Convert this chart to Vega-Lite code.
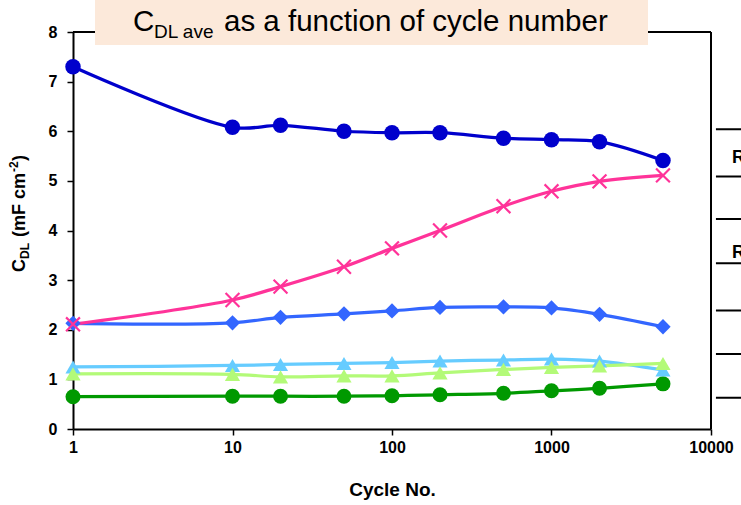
{
  "$schema": "https://vega.github.io/schema/vega-lite/v6.json",
  "width": 638,
  "height": 397,
  "autosize": {"type": "none"},
  "padding": {"left": 73, "top": 32, "right": 30, "bottom": 76},
  "background": "white",
  "config": {
    "view": {"stroke": null},
    "font": "Liberation Sans",
    "axis": {
      "domainColor": "black", "domainWidth": 2, "tickColor": "black", "tickWidth": 1.5, "tickSize": 6,
      "labelFont": "Liberation Sans", "labelFontWeight": "bold", "labelFontSize": 16, "labelColor": "black",
      "grid": false, "titleFont": "Liberation Sans", "titleFontWeight": "bold", "titleFontSize": 19, "titleColor": "black"
    }
  },
  "datasets": {
    "series": [
      {"series": "green", "cycle": 1, "cdl": 0.65}, {"series": "green", "cycle": 10, "cdl": 0.66}, {"series": "green", "cycle": 20, "cdl": 0.66}, {"series": "green", "cycle": 50, "cdl": 0.66}, {"series": "green", "cycle": 100, "cdl": 0.67}, {"series": "green", "cycle": 200, "cdl": 0.69}, {"series": "green", "cycle": 500, "cdl": 0.72}, {"series": "green", "cycle": 1000, "cdl": 0.77}, {"series": "green", "cycle": 2000, "cdl": 0.82}, {"series": "green", "cycle": 5000, "cdl": 0.91},
      {"series": "lightblue", "cycle": 1, "cdl": 1.25}, {"series": "lightblue", "cycle": 10, "cdl": 1.28}, {"series": "lightblue", "cycle": 20, "cdl": 1.30}, {"series": "lightblue", "cycle": 50, "cdl": 1.32}, {"series": "lightblue", "cycle": 100, "cdl": 1.34}, {"series": "lightblue", "cycle": 200, "cdl": 1.37}, {"series": "lightblue", "cycle": 500, "cdl": 1.39}, {"series": "lightblue", "cycle": 1000, "cdl": 1.41}, {"series": "lightblue", "cycle": 2000, "cdl": 1.37}, {"series": "lightblue", "cycle": 5000, "cdl": 1.19},
      {"series": "lime", "cycle": 1, "cdl": 1.11}, {"series": "lime", "cycle": 10, "cdl": 1.10}, {"series": "lime", "cycle": 20, "cdl": 1.05}, {"series": "lime", "cycle": 50, "cdl": 1.07}, {"series": "lime", "cycle": 100, "cdl": 1.07}, {"series": "lime", "cycle": 200, "cdl": 1.13}, {"series": "lime", "cycle": 500, "cdl": 1.20}, {"series": "lime", "cycle": 1000, "cdl": 1.24}, {"series": "lime", "cycle": 2000, "cdl": 1.27}, {"series": "lime", "cycle": 5000, "cdl": 1.32},
      {"series": "blue", "cycle": 1, "cdl": 2.13}, {"series": "blue", "cycle": 10, "cdl": 2.14}, {"series": "blue", "cycle": 20, "cdl": 2.25}, {"series": "blue", "cycle": 50, "cdl": 2.32}, {"series": "blue", "cycle": 100, "cdl": 2.38}, {"series": "blue", "cycle": 200, "cdl": 2.45}, {"series": "blue", "cycle": 500, "cdl": 2.46}, {"series": "blue", "cycle": 1000, "cdl": 2.44}, {"series": "blue", "cycle": 2000, "cdl": 2.31}, {"series": "blue", "cycle": 5000, "cdl": 2.06},
      {"series": "pink", "cycle": 1, "cdl": 2.11}, {"series": "pink", "cycle": 10, "cdl": 2.60}, {"series": "pink", "cycle": 20, "cdl": 2.87}, {"series": "pink", "cycle": 50, "cdl": 3.27}, {"series": "pink", "cycle": 100, "cdl": 3.64}, {"series": "pink", "cycle": 200, "cdl": 4.00}, {"series": "pink", "cycle": 500, "cdl": 4.49}, {"series": "pink", "cycle": 1000, "cdl": 4.79}, {"series": "pink", "cycle": 2000, "cdl": 4.99}, {"series": "pink", "cycle": 5000, "cdl": 5.11},
      {"series": "darkblue", "cycle": 1, "cdl": 7.30}, {"series": "darkblue", "cycle": 10, "cdl": 6.08}, {"series": "darkblue", "cycle": 20, "cdl": 6.12}, {"series": "darkblue", "cycle": 50, "cdl": 6.00}, {"series": "darkblue", "cycle": 100, "cdl": 5.97}, {"series": "darkblue", "cycle": 200, "cdl": 5.97}, {"series": "darkblue", "cycle": 500, "cdl": 5.86}, {"series": "darkblue", "cycle": 1000, "cdl": 5.83}, {"series": "darkblue", "cycle": 2000, "cdl": 5.79}, {"series": "darkblue", "cycle": 5000, "cdl": 5.41}
    ],
    "frame": [
      {"cycle": 1, "cycle2": 10000, "cdl": 8, "cdl2": 8},
      {"cycle": 10000, "cycle2": 10000, "cdl": 0, "cdl2": 8},
      {"cycle": 10740, "cycle2": 40000, "cdl": 6.04, "cdl2": 6.04},
      {"cycle": 10740, "cycle2": 40000, "cdl": 5.09, "cdl2": 5.09},
      {"cycle": 10740, "cycle2": 40000, "cdl": 4.23, "cdl2": 4.23},
      {"cycle": 10740, "cycle2": 40000, "cdl": 3.34, "cdl2": 3.34},
      {"cycle": 10740, "cycle2": 40000, "cdl": 2.39, "cdl2": 2.39},
      {"cycle": 10740, "cycle2": 40000, "cdl": 1.51, "cdl2": 1.51},
      {"cycle": 10740, "cycle2": 40000, "cdl": 0.63, "cdl2": 0.63}
    ],
    "titlebox": [{"cycle": 1.374, "cycle2": 4027, "cdl": 9.0, "cdl2": 7.74}],
    "titletext": [{"cycle": 2.378, "cdl": 8.02, "t1": "C", "t2": "DL ave", "t3": "as a function of cycle number"}],
    "ytitle": [{"cycle": 0.5, "cdl": 3.165, "t1": "C", "t2": "DL", "t3": "(mF cm", "t4": "-2", "t5": ")"}],
    "rlabels": [{"cycle": 13546, "cdl": 5.36, "label": "R²"}, {"cycle": 13546, "cdl": 3.45, "label": "R²"}]
  },
  "layer": [
    {
      "data": {"name": "series"},
      "mark": {"type": "line", "strokeWidth": 3.25, "interpolate": "catmull-rom", "clip": false},
      "encoding": {
        "x": {"field": "cycle", "type": "quantitative",
              "scale": {"type": "log", "domain": [1, 10000], "nice": false},
              "axis": {"values": [1, 10, 100, 1000, 10000], "format": "d", "labelPadding": 4, "titlePadding": 25, "labelFlush": false, "labelOverlap": false, "title": "Cycle No."}},
        "y": {"field": "cdl", "type": "quantitative",
              "scale": {"domain": [0, 8], "nice": false, "zero": false},
              "axis": {"values": [0, 1, 2, 3, 4, 5, 6, 7, 8], "labelPadding": 10, "title": null}},
        "color": {"field": "series", "type": "nominal", "legend": null,
                  "scale": {"domain": ["green", "lightblue", "lime", "blue", "pink", "darkblue"],
                            "range": ["#009900", "#66CCFF", "#B3FA78", "#3366FF", "#FF3399", "#0000CC"]}},
        "detail": {"field": "series"}
      }
    },
    {
      "data": {"name": "series"},
      "mark": {"type": "point", "filled": true, "opacity": 1, "clip": false},
      "encoding": {
        "x": {"field": "cycle", "type": "quantitative"},
        "y": {"field": "cdl", "type": "quantitative"},
        "color": {"field": "series", "type": "nominal", "legend": null},
        "shape": {"field": "series", "type": "nominal", "legend": null,
                  "scale": {"domain": ["green", "lightblue", "lime", "blue", "pink", "darkblue"],
                            "range": ["circle", "triangle-up", "triangle-up", "diamond", "M-1,-0.8L-0.8,-1L0,-0.2L0.8,-1L1,-0.8L0.2,0L1,0.8L0.8,1L0,0.2L-0.8,1L-1,0.8L-0.2,0Z", "circle"]}},
        "size": {"field": "series", "type": "nominal", "legend": null,
                 "scale": {"domain": ["green", "lightblue", "lime", "blue", "pink", "darkblue"],
                           "range": [225, 240, 240, 260, 180, 235]}}
      }
    },
    {
      "data": {"name": "frame"},
      "mark": {"type": "rule", "color": "black", "strokeWidth": 2, "clip": false},
      "encoding": {
        "x": {"field": "cycle", "type": "quantitative"},
        "x2": {"field": "cycle2"},
        "y": {"field": "cdl", "type": "quantitative"},
        "y2": {"field": "cdl2"}
      }
    },
    {
      "data": {"name": "titlebox"},
      "mark": {"type": "rect", "color": "#FCE9DA", "opacity": 1, "clip": false},
      "encoding": {
        "x": {"field": "cycle", "type": "quantitative"},
        "x2": {"field": "cycle2"},
        "y": {"field": "cdl", "type": "quantitative"},
        "y2": {"field": "cdl2"}
      }
    },
    {
      "data": {"name": "titletext"},
      "mark": {"type": "text", "align": "left", "baseline": "alphabetic", "fontSize": 29.5, "color": "black", "font": "Liberation Sans", "clip": false},
      "encoding": {"x": {"field": "cycle", "type": "quantitative"}, "y": {"field": "cdl", "type": "quantitative"}, "text": {"field": "t1"}}
    },
    {
      "data": {"name": "titletext"},
      "mark": {"type": "text", "align": "left", "baseline": "alphabetic", "fontSize": 19, "dx": 21, "dy": 7, "color": "black", "font": "Liberation Sans", "clip": false},
      "encoding": {"x": {"field": "cycle", "type": "quantitative"}, "y": {"field": "cdl", "type": "quantitative"}, "text": {"field": "t2"}}
    },
    {
      "data": {"name": "titletext"},
      "mark": {"type": "text", "align": "left", "baseline": "alphabetic", "fontSize": 29.5, "dx": 91, "color": "black", "font": "Liberation Sans", "clip": false},
      "encoding": {"x": {"field": "cycle", "type": "quantitative"}, "y": {"field": "cdl", "type": "quantitative"}, "text": {"field": "t3"}}
    },
    {
      "data": {"name": "ytitle"},
      "mark": {"type": "text", "align": "left", "baseline": "alphabetic", "angle": 270, "fontSize": 18, "fontWeight": "bold", "color": "black", "font": "Liberation Sans", "clip": false},
      "encoding": {"x": {"field": "cycle", "type": "quantitative"}, "y": {"field": "cdl", "type": "quantitative"}, "text": {"field": "t1"}}
    },
    {
      "data": {"name": "ytitle"},
      "mark": {"type": "text", "align": "left", "baseline": "alphabetic", "angle": 270, "fontSize": 12, "fontWeight": "bold", "dx": 13, "dy": 4, "color": "black", "font": "Liberation Sans", "clip": false},
      "encoding": {"x": {"field": "cycle", "type": "quantitative"}, "y": {"field": "cdl", "type": "quantitative"}, "text": {"field": "t2"}}
    },
    {
      "data": {"name": "ytitle"},
      "mark": {"type": "text", "align": "left", "baseline": "alphabetic", "angle": 270, "fontSize": 18, "fontWeight": "bold", "dx": 35, "color": "black", "font": "Liberation Sans", "clip": false},
      "encoding": {"x": {"field": "cycle", "type": "quantitative"}, "y": {"field": "cdl", "type": "quantitative"}, "text": {"field": "t3"}}
    },
    {
      "data": {"name": "ytitle"},
      "mark": {"type": "text", "align": "left", "baseline": "alphabetic", "angle": 270, "fontSize": 12, "fontWeight": "bold", "dx": 100, "dy": -7, "color": "black", "font": "Liberation Sans", "clip": false},
      "encoding": {"x": {"field": "cycle", "type": "quantitative"}, "y": {"field": "cdl", "type": "quantitative"}, "text": {"field": "t4"}}
    },
    {
      "data": {"name": "ytitle"},
      "mark": {"type": "text", "align": "left", "baseline": "alphabetic", "angle": 270, "fontSize": 18, "fontWeight": "bold", "dx": 111, "color": "black", "font": "Liberation Sans", "clip": false},
      "encoding": {"x": {"field": "cycle", "type": "quantitative"}, "y": {"field": "cdl", "type": "quantitative"}, "text": {"field": "t5"}}
    },
    {
      "data": {"name": "rlabels"},
      "mark": {"type": "text", "align": "left", "baseline": "alphabetic", "fontSize": 18, "fontWeight": "bold", "color": "black", "font": "Liberation Sans", "clip": false},
      "encoding": {"x": {"field": "cycle", "type": "quantitative"}, "y": {"field": "cdl", "type": "quantitative"}, "text": {"field": "label"}}
    }
  ]
}
